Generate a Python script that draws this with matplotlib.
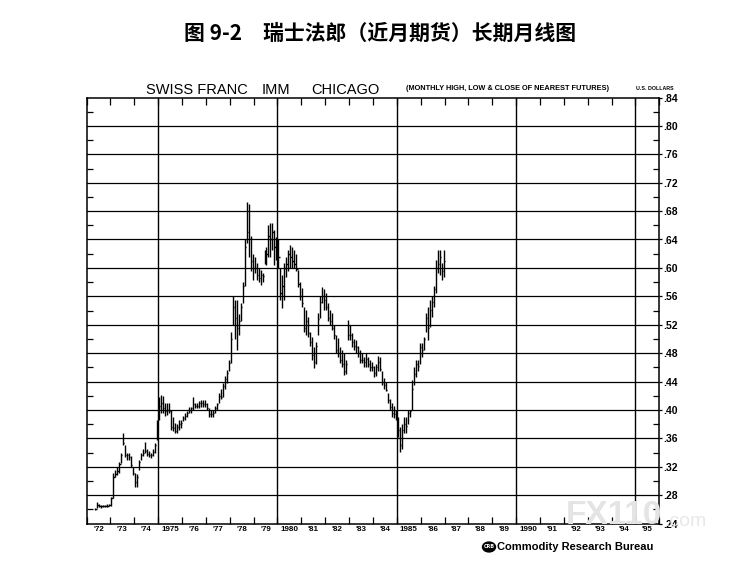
import matplotlib
matplotlib.use("Agg")
import matplotlib.pyplot as plt
from matplotlib.patches import Circle
import numpy as np

# monthly high / low / close of nearest futures, May 1972 .. Dec 1986
START_YEAR, START_MONTH = 1972, 5
high = [
    .262, .270, .267, .266, .266, .266, .267, .268,                              # 1972
    .278, .311, .315, .320, .327, .339, .368, .350, .339, .340, .335, .320,      # 1973
    .311, .310, .330, .339, .345, .355, .345, .342, .340, .345, .353, .386,      # 1974
    .418, .421, .420, .410, .410, .410, .400, .390, .381, .380, .386, .386,      # 1975
    .392, .395, .398, .404, .404, .418, .410, .410, .412, .414, .414, .414,      # 1976
    .410, .402, .400, .400, .405, .410, .424, .430, .438, .448, .456, .470,      # 1977
    .510, .560, .555, .555, .535, .550, .580, .640, .693, .690, .645, .620,      # 1978
    .616, .607, .600, .597, .593, .625, .630, .660, .663, .663, .653, .644,      # 1979
    .640, .600, .590, .607, .615, .625, .632, .630, .625, .620, .597, .580,      # 1980
    .572, .545, .540, .531, .510, .503, .489, .495, .536, .560, .573, .570,      # 1981
    .564, .550, .540, .536, .520, .505, .501, .489, .485, .480, .470, .527,      # 1982
    .520, .508, .500, .498, .490, .484, .480, .475, .480, .475, .470, .468,      # 1983
    .462, .465, .476, .475, .455, .445, .440, .424, .415, .410, .405, .400,      # 1984
    .390, .376, .380, .390, .390, .400, .400, .442, .460, .470, .470, .494,      # 1985
    .494, .503, .536, .545, .555, .560, .575, .611, .625, .625, .607, .625,      # 1986
]
low = [
    .259, .262, .263, .262, .263, .263, .263, .264,
    .264, .276, .306, .309, .311, .325, .350, .334, .330, .330, .320, .308,
    .292, .292, .315, .330, .335, .339, .335, .333, .332, .335, .339, .358,
    .386, .396, .395, .392, .393, .395, .372, .370, .367, .367, .372, .375,
    .384, .386, .390, .395, .395, .400, .402, .402, .403, .404, .404, .404,
    .400, .390, .390, .390, .395, .400, .410, .415, .418, .430, .438, .455,
    .466, .520, .500, .484, .505, .525, .550, .575, .635, .615, .595, .583,
    .593, .583, .580, .576, .580, .605, .604, .615, .615, .625, .604, .611,
    .600, .555, .543, .555, .587, .595, .600, .600, .600, .595, .573, .555,
    .545, .510, .505, .503, .490, .470, .459, .465, .505, .530, .550, .540,
    .540, .525, .520, .512, .500, .480, .475, .466, .460, .449, .450, .498,
    .498, .489, .485, .480, .475, .466, .466, .461, .460, .461, .455, .455,
    .446, .448, .455, .455, .435, .430, .426, .410, .400, .390, .388, .386,
    .362, .341, .345, .367, .367, .380, .390, .400, .435, .447, .455, .465,
    .475, .484, .510, .498, .517, .531, .545, .564, .593, .590, .583, .587,
]
close = [
    .261, .266, .264, .264, .264, .265, .265, .266,
    .276, .305, .310, .314, .324, .336, .353, .337, .336, .334, .322, .311,
    .298, .306, .327, .336, .340, .342, .338, .336, .336, .341, .350, .382,
    .405, .410, .402, .398, .400, .398, .376, .374, .370, .376, .380, .382,
    .388, .392, .396, .400, .402, .408, .406, .406, .410, .410, .409, .408,
    .402, .394, .394, .396, .402, .408, .420, .418, .434, .444, .452, .466,
    .500, .545, .530, .515, .525, .545, .575, .630, .650, .640, .610, .600,
    .600, .590, .586, .590, .588, .615, .620, .645, .640, .650, .630, .630,
    .615, .565, .575, .600, .605, .620, .615, .610, .605, .598, .578, .560,
    .550, .515, .525, .508, .495, .478, .468, .490, .528, .552, .560, .555,
    .545, .530, .525, .515, .505, .485, .480, .470, .465, .455, .465, .505,
    .505, .495, .490, .488, .480, .470, .470, .468, .472, .465, .460, .460,
    .452, .460, .468, .458, .440, .435, .428, .414, .404, .396, .394, .390,
    .372, .350, .372, .380, .378, .395, .398, .430, .450, .465, .462, .488,
    .485, .500, .530, .515, .540, .552, .570, .600, .605, .615, .595, .610,
]

year_labels = ["'72", "'73", "'74", "1975", "'76", "'77", "'78", "'79",
               "1980", "'81", "'82", "'83", "'84", "1985", "'86", "'87",
               "'88", "'89", "1990", "'91", "'92", "'93", "'94", "'95"]
five_year_lines = [1975, 1980, 1985, 1990, 1995]
price_ticks = [.24, .28, .32, .36, .40, .44, .48, .52, .56, .60, .64, .68, .72, .76, .80, .84]

SANS = ["Liberation Sans", "DejaVu Sans"]
CJK = ["Noto Sans CJK SC", "DejaVu Sans"]

W, H = 752, 572
fig = plt.figure(figsize=(W / 100, H / 100), dpi=100)
ax = fig.add_axes([86.5 / W, 1 - 523.5 / H, (659.3 - 86.5) / W, (523.5 - 97.5) / H])

n = len(high)
x = START_YEAR + (np.arange(n) + START_MONTH - 1 + 0.5) / 12.0
ax.vlines(x, low, high, color="black", lw=1.0, zorder=3)
ax.hlines(close, x, x + 0.05, color="black", lw=1.0, zorder=3)

ax.set_xlim(1972, 1996)
ax.set_ylim(.24, .84)

for yv in price_ticks[1:-1]:
    ax.axhline(yv, color="black", lw=0.9, zorder=1)
for xv in five_year_lines:
    ax.axvline(xv, color="black", lw=1.0, zorder=1)

for s in ax.spines.values():
    s.set_linewidth(1.1)

# x axis: year ticks on both edges, labels centred in each year
years = np.arange(1972, 1997)
ax.set_xticks(years)
ax.set_xticklabels([])
ax.set_xticks(years[:-1] + 0.5, minor=True)
ax.set_xticklabels(year_labels, minor=True, fontsize=5.8, fontweight="bold", family=SANS)
ax.tick_params(axis="x", which="major", direction="in", top=True, bottom=True, length=5, width=0.9)
ax.tick_params(axis="x", which="minor", length=0, pad=2)

# y axis on the right
ax.yaxis.tick_right()
ax.set_yticks(price_ticks)
ax.set_yticklabels(["." + f"{v:.2f}"[2:] for v in price_ticks], fontsize=7.5, fontweight="bold", family=SANS)
ax.set_yticks(np.arange(.26, .84, .04), minor=True)
ax.tick_params(axis="y", which="major", direction="out", length=2, width=0.9, pad=1)
ax.tick_params(axis="y", which="minor", direction="in", left=True, right=True, length=4, width=0.9)

fig.text(0.505, 1 - 33 / H, "图 9-2　瑞士法郎（近月期货）长期月线图",
         ha="center", va="center", fontsize=15, fontweight="bold", family=CJK)

fig.text(146 / W, 1 - 90 / H, "SWISS FRANC", fontsize=10.5, va="center", family=SANS)
fig.text(262 / W, 1 - 90 / H, "IMM", fontsize=10.5, va="center", family=SANS)
fig.text(311 / W, 1 - 90 / H, "CHICAGO", fontsize=10.5, va="center", family=SANS)
fig.text(406 / W, 1 - 88 / H, "(MONTHLY HIGH, LOW & CLOSE OF NEAREST FUTURES)",
         fontsize=5.3, fontweight="bold", va="center", family=SANS)
fig.text(655 / W, 1 - 88 / H, "U.S. DOLLARS", fontsize=3.8, fontweight="bold",
         ha="center", va="center", family=SANS)

# watermark
fig.text(566 / W, 1 - 516 / H, "FX110", fontsize=24, fontweight="bold", color="#e4e4e4",
         va="center", family=SANS, zorder=0)
fig.text(664 / W, 1 - 522 / H, ".com", fontsize=14, color="#e8e8e8",
         va="center", family=SANS, zorder=0)

# CRB logo
fig.patches.append(Circle((489 / W, 1 - 547 / H), 6.5 / W, transform=fig.transFigure,
                          color="black", zorder=4))
fig.text(489 / W, 1 - 547 / H, "CRB", fontsize=3.5, color="white", fontweight="bold",
         ha="center", va="center", zorder=5)
fig.text(497 / W, 1 - 547 / H, "Commodity Research Bureau", fontsize=8, fontweight="bold",
         va="center", family=SANS)

fig.savefig("out.png", dpi=100)
